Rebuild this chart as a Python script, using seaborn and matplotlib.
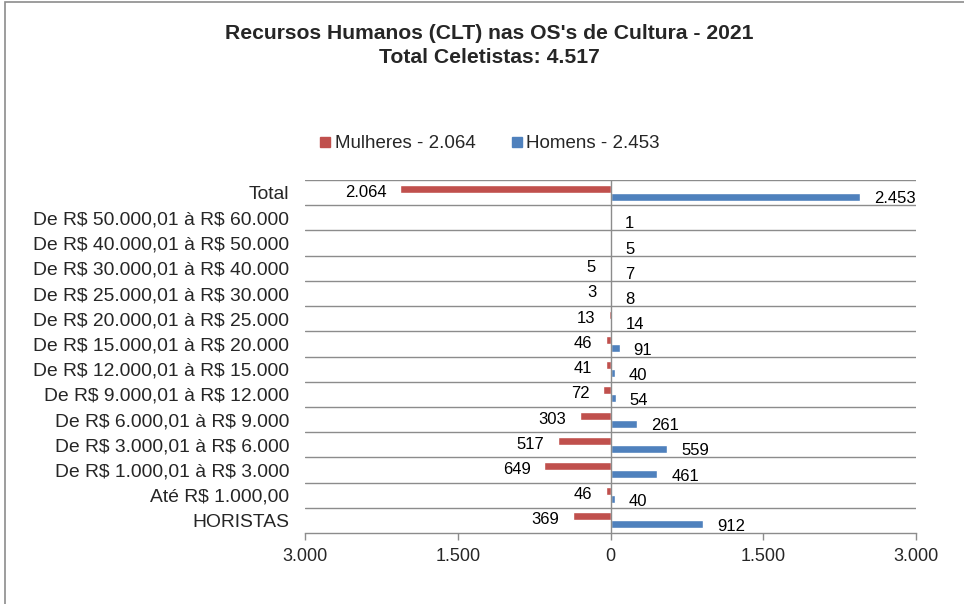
import matplotlib
matplotlib.use("Agg")
import matplotlib.pyplot as plt
import seaborn as sns
import pandas as pd
from matplotlib.patches import Rectangle
from matplotlib.lines import Line2D

categories = ["Total", "De R$ 50.000,01 à R$ 60.000", "De R$ 40.000,01 à R$ 50.000",
              "De R$ 30.000,01 à R$ 40.000", "De R$ 25.000,01 à R$ 30.000",
              "De R$ 20.000,01 à R$ 25.000", "De R$ 15.000,01 à R$ 20.000",
              "De R$ 12.000,01 à R$ 15.000", "De R$ 9.000,01 à R$ 12.000",
              "De R$ 6.000,01 à R$ 9.000", "De R$ 3.000,01 à R$ 6.000",
              "De R$ 1.000,01 à R$ 3.000", "Até R$ 1.000,00", "HORISTAS"]
mulheres = [2064, 0, 0, 5, 3, 13, 46, 41, 72, 303, 517, 649, 46, 369]
homens = [2453, 1, 5, 7, 8, 14, 91, 40, 54, 261, 559, 461, 40, 912]
series_names = ["Mulheres - 2.064", "Homens - 2.453"]
x_ticks = [-3000, -1500, 0, 1500, 3000]
x_ticklabels = ["3.000", "1.500", "0", "1.500", "3.000"]

RED = "#C0504D"
BLUE = "#4F81BD"
GRID = "#8C8C8C"

sns.set_theme(style="white")
plt.rcParams['font.family'] = ['Liberation Sans', 'DejaVu Sans']

df = pd.DataFrame({
    "cat": categories * 2,
    "val": [-v for v in mulheres] + homens,
    "serie": [series_names[0]] * len(categories) + [series_names[1]] * len(categories),
})

fig = plt.figure(figsize=(9.64, 6.04), dpi=100)
ax = fig.add_axes([0.3164, 0.1175, 0.6338, 0.5844])

sns.barplot(data=df, y="cat", x="val", hue="serie", order=categories,
            hue_order=series_names, palette=[RED, BLUE], orient="h",
            width=0.64, dodge=True, gap=0, errorbar=None, ax=ax,
            saturation=1, legend=False)

n = len(categories)
ax.set_xlim(-3000, 3000)
ax.set_ylim(n - 0.5, -0.5)
ax.set_xticks(x_ticks)
ax.set_xticklabels(x_ticklabels, fontsize=13)
ax.set_yticks(range(n))
ax.set_yticklabels([c.replace("$", r"\$") for c in categories], fontsize=13.9)
ax.tick_params(axis="x", length=5, width=1, color=GRID, direction="out", pad=6, bottom=True)
ax.tick_params(axis="y", length=0, pad=11.5)
ax.set_xlabel("")
ax.set_ylabel("")
for s in ["top", "right", "left"]:
    ax.spines[s].set_visible(False)
ax.spines["bottom"].set_color(GRID)
ax.spines["bottom"].set_linewidth(1)

for b in range(n):
    ax.axhline(b - 0.5, color=GRID, lw=1, zorder=0)
ax.axvline(0, color=GRID, lw=1, zorder=3)

def fmt(v):
    return f"{v:,}".replace(",", ".")

for i in range(n):
    w = mulheres[i]
    m = homens[i]
    if w > 0:
        ax.annotate(fmt(w), xy=(-w, i - 0.16), xytext=(-10, -2.5), textcoords="offset points",
                    ha="right", va="center", fontsize=12, color="black")
    if m > 0:
        ax.annotate(fmt(m), xy=(m, i + 0.16), xytext=(10, -1.5), textcoords="offset points",
                    ha="left", va="center", fontsize=12, color="black")

fig.text(0.508, 0.945, "Recursos Humanos (CLT) nas OS's de Cultura - 2021",
         ha="center", va="center", fontsize=15.2, fontweight="bold")
fig.text(0.508, 0.904, "Total Celetistas: 4.517",
         ha="center", va="center", fontsize=15.2, fontweight="bold")

handles = [Line2D([0], [0], marker="s", linestyle="", markersize=7.5, markerfacecolor=RED,
                  markeredgecolor=RED),
           Line2D([0], [0], marker="s", linestyle="", markersize=7.5, markerfacecolor=BLUE,
                  markeredgecolor=BLUE)]
fig.legend(handles, series_names, loc="center", bbox_to_anchor=(0.506, 0.762), ncol=2,
           frameon=False, fontsize=13.5, handletextpad=0.0, columnspacing=1.7,
           handlelength=1.0)

fig.patches.append(Rectangle((5 / 964, -0.1), 1.2, 1.1 - 2 / 604, transform=fig.transFigure,
                             fill=False, edgecolor="#8C8C8C", lw=1.2))

fig.savefig("out.png", dpi=100)
